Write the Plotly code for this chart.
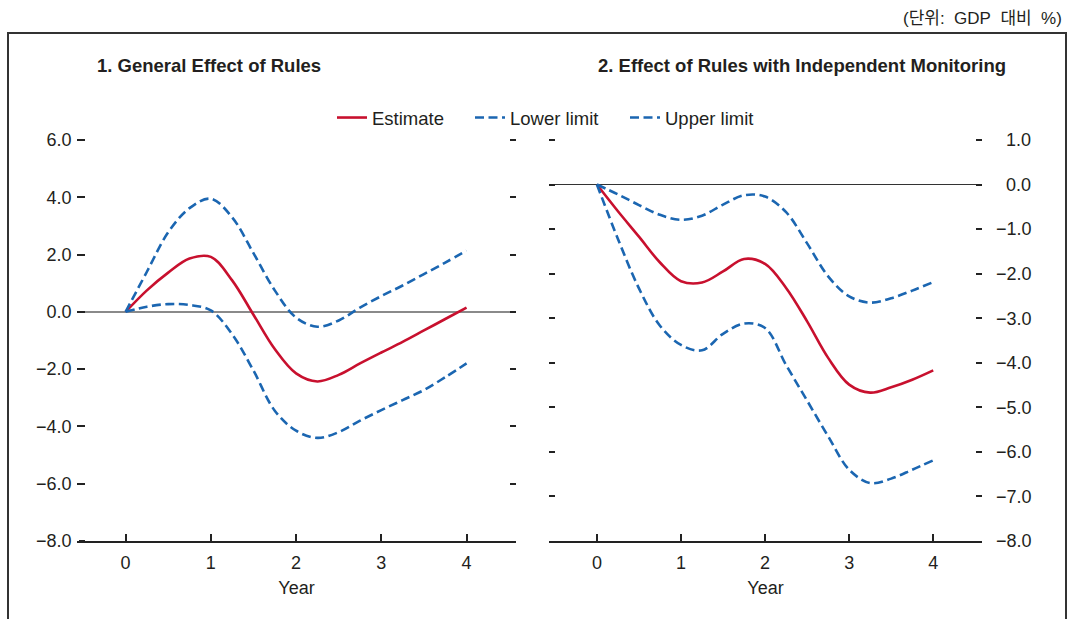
import plotly.graph_objects as go

# Years after the rule is adopted (quarterly steps)
years = [0, 0.25, 0.5, 0.75, 1.0, 1.25, 1.5, 1.75, 2.0, 2.25, 2.5, 2.75, 3.0, 3.25, 3.5, 3.75, 4.0]

# Panel 1: general effect of rules
gen_estimate = [0, 0.75, 1.37, 1.86, 1.92, 1.1, -0.1, -1.3, -2.15, -2.43, -2.2, -1.8, -1.42, -1.05, -0.65, -0.25, 0.15]
gen_upper = [0, 1.4, 2.78, 3.62, 3.95, 3.3, 2.05, 0.75, -0.2, -0.52, -0.3, 0.15, 0.55, 0.92, 1.32, 1.72, 2.14]
gen_lower = [0, 0.18, 0.27, 0.24, 0.05, -0.78, -2.05, -3.45, -4.15, -4.4, -4.2, -3.8, -3.43, -3.08, -2.73, -2.28, -1.8]

# Panel 2: effect of rules with independent monitoring
mon_estimate = [0, -0.6, -1.17, -1.75, -2.17, -2.2, -1.95, -1.67, -1.78, -2.32, -3.07, -3.89, -4.49, -4.67, -4.55, -4.38, -4.17]
mon_upper = [0, -0.22, -0.46, -0.68, -0.79, -0.7, -0.45, -0.24, -0.27, -0.62, -1.32, -2.06, -2.51, -2.65, -2.55, -2.38, -2.19]
mon_lower = [0, -1.22, -2.33, -3.17, -3.6, -3.72, -3.35, -3.12, -3.22, -4.05, -4.85, -5.65, -6.4, -6.7, -6.6, -6.4, -6.19]

x_ticks = [0, 1, 2, 3, 4]
gen_yticks = [6, 4, 2, 0, -2, -4, -6, -8]
mon_yticks = [1, 0, -1, -2, -3, -4, -5, -6, -7, -8]

unit_label = "(단위:\u00a0 GDP\u00a0 대비\u00a0 %)"
title_1 = "1. General Effect of Rules"
title_2 = "2. Effect of Rules with Independent Monitoring"

RED = "#c8102e"
BLUE = "#1b66b1"
TEXT = "#231f20"
TICK = "#222"
FONT = "Liberation Sans, Arial, Noto Sans CJK KR, sans-serif"
NARROW = "Liberation Sans Narrow, Arial Narrow, Liberation Sans, sans-serif"
DASH = "9px,4.5px"

W, H = 1071, 619

# pixel layout of the two plotting areas
TOP, BOTTOM = 140, 541
GEN_RANGE = [-8, 6.05]
MON_RANGE = [-8, 1.03]
gen_top = TOP - (GEN_RANGE[1] - 6) * (BOTTOM - TOP) / 14
mon_top = TOP - (MON_RANGE[1] - 1) * (BOTTOM - TOP) / 9

fig = go.Figure()


def add_panel(xa, ya, est, lo, up, show):
    fig.add_trace(go.Scatter(x=years, y=est, mode="lines", name="Estimate",
                             line=dict(color=RED, width=2.6, shape="spline", smoothing=1.0),
                             xaxis=xa, yaxis=ya, showlegend=show, legendrank=1, legendwidth=93))
    fig.add_trace(go.Scatter(x=years, y=lo, mode="lines", name="Lower limit",
                             line=dict(color=BLUE, width=2.6, dash=DASH, shape="spline", smoothing=1.0),
                             xaxis=xa, yaxis=ya, showlegend=show, legendrank=2, legendwidth=110))
    fig.add_trace(go.Scatter(x=years, y=up, mode="lines", name="Upper limit",
                             line=dict(color=BLUE, width=2.6, dash=DASH, shape="spline", smoothing=1.0),
                             xaxis=xa, yaxis=ya, showlegend=show, legendrank=3))


add_panel("x", "y", gen_estimate, gen_lower, gen_upper, True)
add_panel("x2", "y2", mon_estimate, mon_lower, mon_upper, False)

xcommon = dict(range=[-0.57, 4.58], tickvals=x_ticks, ticks="inside", ticklen=7, tickwidth=2,
               tickcolor=TICK, showline=True, linecolor=TICK, linewidth=2.2,
               showgrid=False, zeroline=False, fixedrange=True, automargin=False,
               ticklabelstandoff=4,
               tickfont=dict(family=FONT, size=18, color=TEXT),
               title=dict(text="Year", font=dict(family=FONT, size=18, color=TEXT), standoff=10))

ycommon = dict(ticks="inside", ticklen=6, tickwidth=1.6, tickcolor=TICK, mirror="ticks",
               showline=False, showgrid=False, zeroline=True, fixedrange=True, automargin=False,
               tickfont=dict(family=FONT, size=18, color=TEXT))


def fmt(v, lead="", tail=""):
    s = f"{abs(v):.1f}"
    if v < 0:
        return "\u2212" + s + tail
    return lead + s + tail


fig.update_layout(
    width=W, height=H,
    margin=dict(l=0, r=0, t=0, b=0, pad=0, autoexpand=False),
    paper_bgcolor="white", plot_bgcolor="white",
    font=dict(family=FONT, color=TEXT),
    xaxis=dict(domain=[77 / W, 516 / W], anchor="y", **xcommon),
    xaxis2=dict(domain=[549 / W, 982 / W], anchor="y2", **xcommon),
    yaxis=dict(domain=[1 - BOTTOM / H, 1 - gen_top / H], anchor="x", range=GEN_RANGE,
               tickvals=gen_yticks, ticktext=[fmt(v, tail="\u2005") for v in gen_yticks],
               zerolinecolor="#8a8a8a", zerolinewidth=2, **ycommon),
    # short tick marks just inside the left edge of panel 1
    yaxis3=dict(overlaying="y", anchor="free", position=78 / W, side="right", range=GEN_RANGE,
                tickvals=gen_yticks, ticks="outside", ticklen=6, tickwidth=1.6, tickcolor=TICK,
                showticklabels=False, showline=False, showgrid=False, zeroline=False,
                fixedrange=True, automargin=False),
    yaxis2=dict(domain=[1 - BOTTOM / H, 1 - mon_top / H], anchor="x2", side="right", range=MON_RANGE,
                tickvals=mon_yticks, ticktext=[fmt(v, lead="\u2007") for v in mon_yticks],
                ticklabelstandoff=13, zerolinecolor="#333", zerolinewidth=1.2, **ycommon),
    legend=dict(orientation="h", x=332 / W, xanchor="left", y=1 - 118 / H, yanchor="middle",
                font=dict(family=FONT, size=18.5, color=TEXT), bgcolor="rgba(0,0,0,0)",
                traceorder="normal", itemwidth=30, tracegroupgap=0),
    showlegend=True,
)

# an invisible trace keeps the tick-mark axis active
fig.add_trace(go.Scatter(x=[None], y=[None], xaxis="x", yaxis="y3", showlegend=False,
                         hoverinfo="skip"))

# Outer frame around both panels
fig.add_shape(type="rect", xref="paper", yref="paper", x0=8 / W, x1=1066 / W,
              y0=-0.02, y1=1 - 33 / H, line=dict(color="#333", width=2), layer="below")

fig.add_annotation(text=unit_label, xref="paper", yref="paper", x=1064 / W, y=1 - 18 / H,
                   xanchor="right", yanchor="middle", showarrow=False,
                   font=dict(family=FONT, size=17, color=TEXT))
fig.add_annotation(text=f"<b>{title_1}</b>", xref="paper", yref="paper", x=95 / W, y=1 - 65 / H,
                   xanchor="left", yanchor="middle", showarrow=False,
                   font=dict(family=NARROW, size=18.5, color=TEXT))
fig.add_annotation(text=f"<b>{title_2}</b>", xref="paper", yref="paper", x=596 / W, y=1 - 65 / H,
                   xanchor="left", yanchor="middle", showarrow=False,
                   font=dict(family=NARROW, size=18.5, color=TEXT))

fig.write_html("out.html")
